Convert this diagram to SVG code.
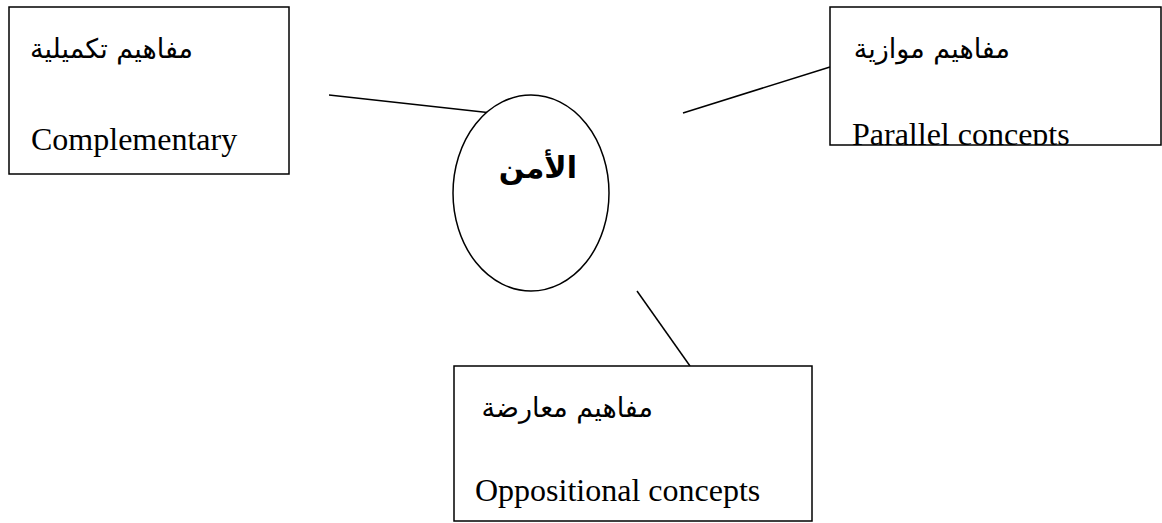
<svg xmlns="http://www.w3.org/2000/svg" width="1162" height="523" viewBox="0 0 1162 523">
  <style>
    .box { fill: #fff; stroke: #000; stroke-width: 1.5; }
    .link { stroke: #000; stroke-width: 1.5; fill: none; }
    .en { font-family: "Liberation Serif", "Times New Roman", serif; font-size: 32px; fill: #000; }
    .ar { font-family: "DejaVu Sans", "Liberation Serif", serif; font-size: 27px; fill: #000; }
    .core { font-family: "DejaVu Sans", serif; font-size: 30px; font-weight: bold; fill: #000; }
  </style>
  <defs>
    <clipPath id="clip-parallel">
      <rect x="830" y="7" width="331" height="138"/>
    </clipPath>
  </defs>

  <!-- connectors from the central concept to the three groups -->
  <g id="connectors">
    <line class="link" x1="329" y1="95" x2="501" y2="114"/>
    <line class="link" x1="683" y1="113" x2="830" y2="67"/>
    <line class="link" x1="637" y1="291" x2="690" y2="366"/>
  </g>

  <g id="node-complementary">
    <rect class="box" x="9" y="7" width="280" height="167"/>
    <text class="ar" x="193" y="58" text-anchor="end">مفاهيم تكميلية</text>
    <text class="en" x="31" y="150">Complementary</text>
  </g>

  <g id="node-parallel">
    <rect class="box" x="830" y="7" width="331" height="138"/>
    <text class="ar" x="1010" y="58" text-anchor="end">مفاهيم موازية</text>
    <text class="en" x="852" y="145" clip-path="url(#clip-parallel)">Parallel concepts</text>
  </g>

  <g id="node-security">
    <ellipse class="box" cx="531" cy="193" rx="78" ry="98"/>
    <text class="core" x="577" y="178" text-anchor="end">الأمن</text>
  </g>

  <g id="node-oppositional">
    <rect class="box" x="454" y="366" width="358" height="155"/>
    <text class="ar" x="653" y="417" text-anchor="end">مفاهيم معارضة</text>
    <text class="en" x="475" y="501">Oppositional concepts</text>
  </g>
</svg>
